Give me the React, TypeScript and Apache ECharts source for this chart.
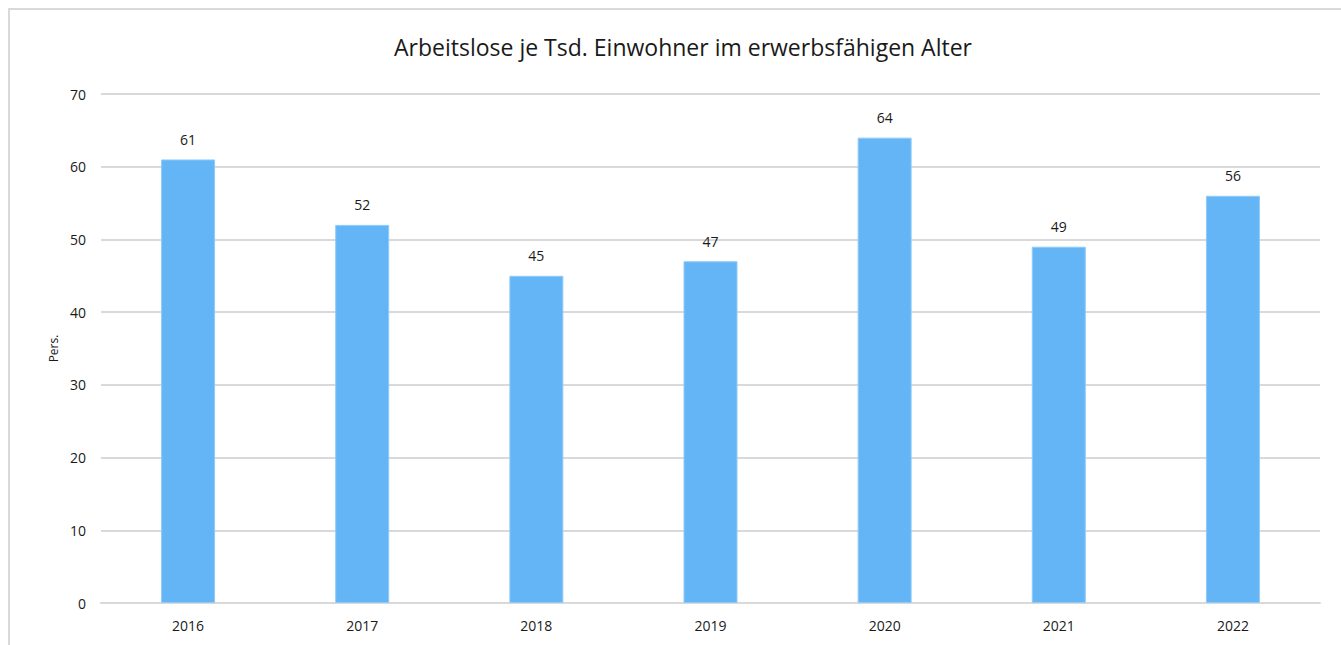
import React, { useEffect, useRef } from "react";
import * as echarts from "echarts";

const title = "Arbeitslose je Tsd. Einwohner im erwerbsfähigen Alter";
const years = ["2016", "2017", "2018", "2019", "2020", "2021", "2022"];
const values = [61, 52, 45, 47, 64, 49, 56];
const yAxisName = "Pers.";

export default function App() {
  const ref = useRef<HTMLDivElement>(null);
  useEffect(() => {
    document.documentElement.style.overflow = "hidden";
    document.body.style.overflow = "hidden";
    if (!ref.current) return;
    const chart = echarts.init(ref.current, undefined, { renderer: "svg" });
    const font = "'Open Sans', 'Noto Sans', sans-serif";
    chart.setOption({
      animation: false,
      textStyle: { fontFamily: font },
      title: {
        text: title,
        left: 668,
        textAlign: "center",
        top: 20,
        textStyle: { fontSize: 23, fontWeight: "normal", color: "#1a1a1a", fontFamily: font },
      },
      grid: { left: 91, right: 50, top: 84, bottom: 67, containLabel: false },
      xAxis: {
        type: "category",
        data: years,
        axisLine: { show: true, lineStyle: { color: "#d9d9d9", width: 2 } },
        axisTick: { show: false },
        axisLabel: { color: "#1a1a1a", fontSize: 14, margin: 15, fontFamily: font },
      },
      yAxis: {
        type: "value",
        min: 0,
        max: 70,
        interval: 10,
        name: yAxisName,
        nameLocation: "middle",
        nameGap: 42,
        nameTextStyle: { color: "#1a1a1a", fontSize: 12, fontFamily: font },
        axisLine: { show: false },
        axisTick: { show: false },
        axisLabel: { color: "#1a1a1a", fontSize: 14, margin: 15, fontFamily: font },
        splitLine: { lineStyle: { color: "#d9d9d9", width: 2 } },
      },
      series: [
        {
          type: "bar",
          data: values,
          barWidth: "31%",
          itemStyle: { color: "#64b5f6", borderColor: "#90caf9", borderWidth: 1 },
          label: {
            show: true,
            position: "top",
            distance: 13,
            color: "#1a1a1a",
            fontSize: 14,
            fontFamily: font,
          },
        },
      ],
    });
    return () => chart.dispose();
  }, []);
  return (
    <div
      ref={ref}
      style={{
        position: "absolute",
        left: 8,
        top: 8,
        width: 1360,
        height: 660,
        border: "2px solid #d9d9d9",
        background: "#fff",
      }}
    />
  );
}
